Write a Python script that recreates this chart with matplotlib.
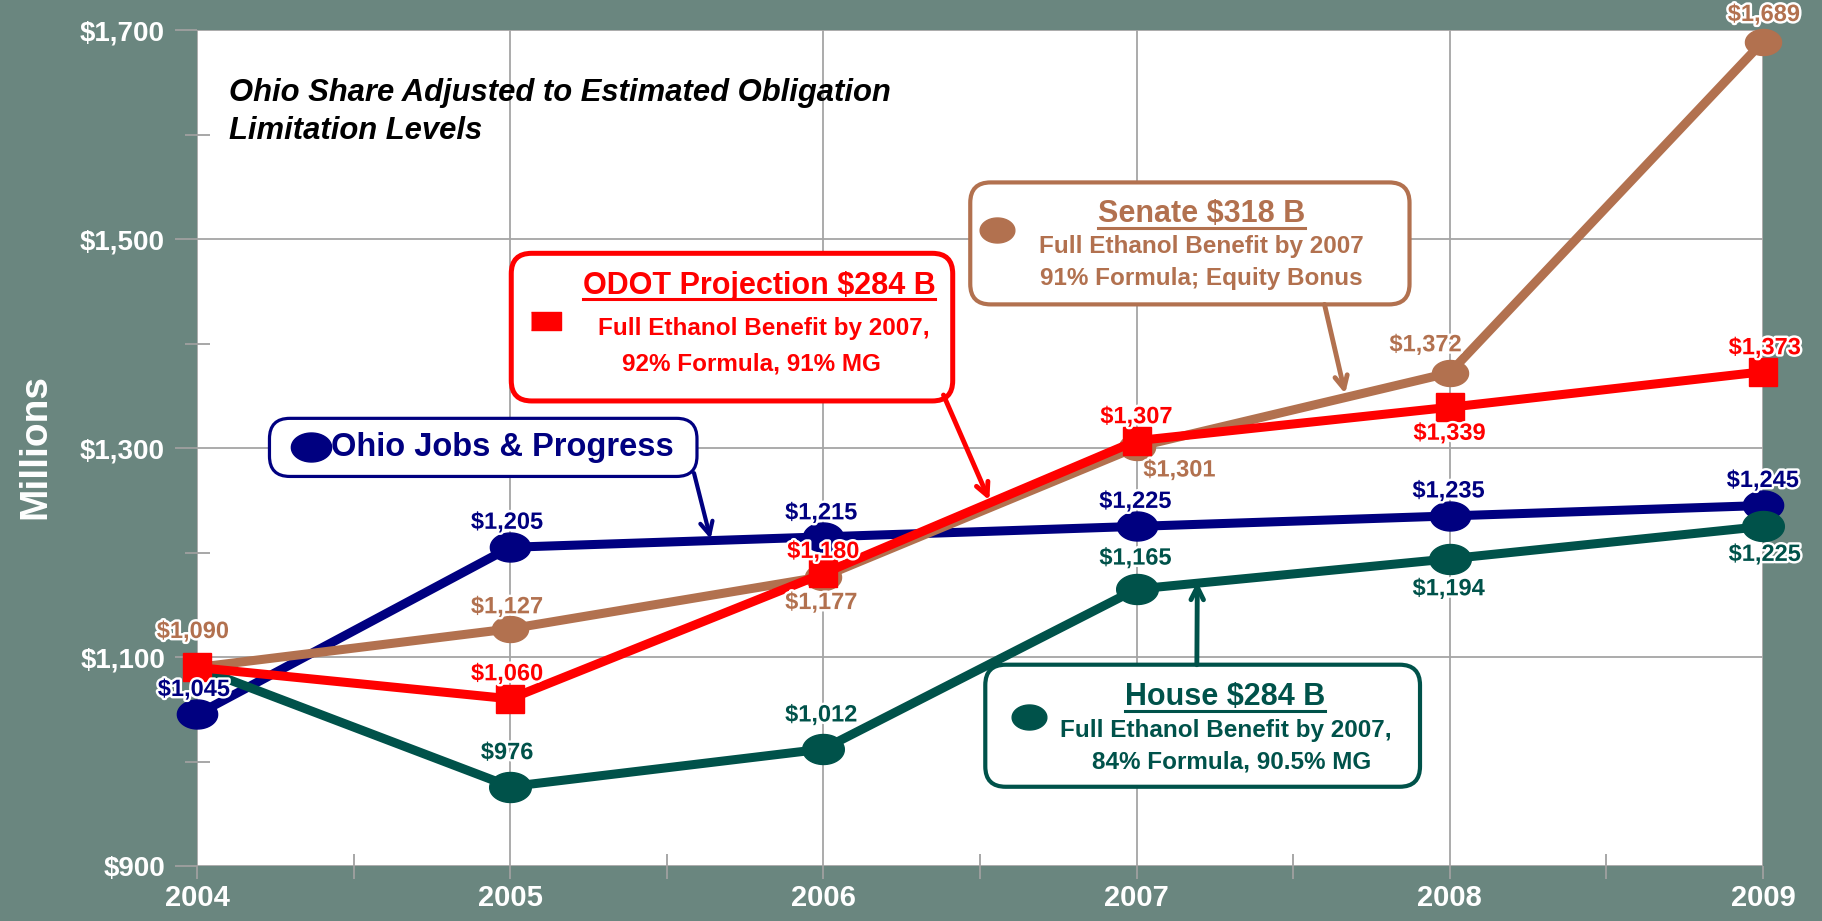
import numpy as np
import matplotlib.pyplot as plt
from matplotlib.path import Path
from matplotlib.patches import FancyBboxPatch
import matplotlib.patheffects as pe

plt.rcParams['font.family'] = ['Liberation Sans', 'DejaVu Sans']
plt.rcParams['font.weight'] = 'bold'

# Datos (millones de dolares)
years = [2004, 2005, 2006, 2007, 2008, 2009]
ohio_jobs = [1045, 1205, 1215, 1225, 1235, 1245]
odot = [1090, 1060, 1180, 1307, 1339, 1373]
senate = [1090, 1127, 1177, 1301, 1372, 1689]
house = [1090, 976, 1012, 1165, 1194, 1225]

NAVY = '#000080'
RED = '#ff0000'
BROWN = '#b2714f'
TEAL = '#00524a'
BG = '#6a867f'

# desplazamiento de etiquetas (pixeles), None = sin etiqueta
navy_off = [(-3, 25), (-3, 25), (-2, 24), (-1, 25), (-1, 25), (0, 25)]
red_off = [None, (-3, 25), (0, 22), (0, 24), (0, -26), (2, 24)]
brown_off = [(-4, 36), (-3, 22), (-2, -26), (43, -23), (-24, 28), (1, 27)]
teal_off = [None, (-3, 34), (-2, 34), (-1, 31), (-1, -30), (2, -28)]

t = np.linspace(0, 2 * np.pi, 60)
ell = Path(np.column_stack([np.cos(t), 0.72 * np.sin(t)]))
rect = [(-1, -0.6), (1, -0.6), (1, 0.6), (-1, 0.6)]

fig = plt.figure(figsize=(18.22, 9.21), dpi=100)
fig.patch.set_facecolor(BG)
ax = fig.add_axes([0.1081, 0.0597, 0.8595, 0.9077])
ax.set_facecolor('white')

ax.plot(years, ohio_jobs, color=NAVY, lw=6.5, marker=ell, ms=29, zorder=3, clip_on=False)
ax.plot(years, house, color=TEAL, lw=6.5, marker=ell, ms=30, markevery=range(1, 6), zorder=4, clip_on=False)
ax.plot(years, senate, color=BROWN, lw=6.5, marker=ell, ms=26, markevery=range(1, 6), zorder=5, clip_on=False)
ax.plot(years, odot, color=RED, lw=6.5, marker='s', ms=20, zorder=5.5, clip_on=False)

halo = [pe.withStroke(linewidth=3.5, foreground='white')]
for serie, offs, col in [(ohio_jobs, navy_off, NAVY), (odot, red_off, RED),
                         (senate, brown_off, BROWN), (house, teal_off, TEAL)]:
    for x, v, off in zip(years, serie, offs):
        if off is None:
            continue
        ax.annotate(f'${v:,}', (x, v), xytext=off, textcoords='offset pixels',
                    ha='center', va='center', color=col, fontsize=17,
                    path_effects=halo, zorder=8, annotation_clip=False)

ax.set_xlim(2004, 2009)
ax.set_ylim(900, 1700)
ax.set_xticks(years)
ax.set_xticks([y + 0.5 for y in years[:-1]], minor=True)
ax.set_yticks([900, 1100, 1300, 1500, 1700])
ax.set_yticks([1000, 1200, 1400, 1600], minor=True)
ax.yaxis.set_major_formatter(plt.FuncFormatter(lambda v, p: f'${v:,.0f}'))
ax.grid(True, which='major', color='#a5a5a5', lw=1.3)
ax.set_axisbelow(True)
for s in ax.spines.values():
    s.set_visible(False)
ax.tick_params(axis='y', which='major', length=16, width=1.3, color='#a0a0a0', direction='out',
               pad=7, labelsize=20, labelcolor='white')
ax.tick_params(axis='y', which='minor', length=18, width=1.3, color='#a0a0a0', direction='inout')
ax.tick_params(axis='x', which='major', length=9, width=1.3, color='#a0a0a0', direction='out',
               pad=4, labelsize=21, labelcolor='white')
ax.tick_params(axis='x', which='minor', length=18, width=1.3, color='#a0a0a0', direction='inout')

fig.text(35 / 1822, 0.5147, 'Millions', rotation=90, color='white', fontsize=28,
         ha='center', va='center')

ax.text(0.0204, 0.902, 'Ohio Share Adjusted to Estimated Obligation\nLimitation Levels',
        style='italic', fontsize=22.3, ha='left', va='center', linespacing=1.35,
        transform=ax.transAxes, zorder=7)

aspect = 1566 / 836


def callout(x0, y0, x1, y1, col, lw):
    p = FancyBboxPatch((x0, y0), x1 - x0, y1 - y0,
                       boxstyle='round,pad=0,rounding_size=0.013', mutation_aspect=aspect,
                       transform=ax.transAxes, fc='white', ec=col, lw=lw, zorder=6, clip_on=False)
    ax.add_patch(p)


def arrow(xy, start, col, lw):
    ax.annotate('', xy=xy, xytext=start, textcoords='axes fraction',
                arrowprops=dict(arrowstyle='->,head_length=0.9,head_width=0.45', color=col,
                                lw=lw, shrinkA=0, shrinkB=0), zorder=6)


titles = []

# Ohio Jobs & Progress
callout(0.0463, 0.4660, 0.3193, 0.5355, NAVY, 2.3)
ax.plot([0.0730], [0.5007], marker=ell, ms=29, color=NAVY, transform=ax.transAxes,
        clip_on=False, zorder=7)
ax.text(0.0857, 0.5007, 'Ohio Jobs & Progress', color=NAVY, fontsize=23.5, ha='left',
        va='center', transform=ax.transAxes, zorder=7)
arrow((2005.64, 1213), (0.3174, 0.470), NAVY, 3)

# ODOT
callout(0.2007, 0.5563, 0.4826, 0.7329, RED, 3.6)
ax.plot([0.2229], [0.6521], marker=rect, ms=21, color=RED, transform=ax.transAxes,
        clip_on=False, zorder=7)
titles.append((ax.text(0.3589, 0.6940, 'ODOT Projection $284 B', color=RED, fontsize=22,
                       ha='center', va='center', transform=ax.transAxes, zorder=7), 0.6781, RED))
ax.text(0.3621, 0.6433, 'Full Ethanol Benefit by 2007,', color=RED, fontsize=17.5,
        ha='center', va='center', transform=ax.transAxes, zorder=7)
ax.text(0.3543, 0.6007, '92% Formula, 91% MG', color=RED, fontsize=17.5,
        ha='center', va='center', transform=ax.transAxes, zorder=7)
arrow((2006.53, 1250), (0.4767, 0.5634), RED, 3.5)

# Senate
callout(0.4938, 0.6718, 0.7743, 0.8177, BROWN, 3)
ax.plot([0.5109], [0.7608], marker=ell, ms=25, color=BROWN, transform=ax.transAxes,
        clip_on=False, zorder=7)
titles.append((ax.text(0.6414, 0.7801, 'Senate $318 B', color=BROWN, fontsize=22,
                       ha='center', va='center', transform=ax.transAxes, zorder=7), 0.7635, BROWN))
ax.text(0.6414, 0.7413, 'Full Ethanol Benefit by 2007', color=BROWN, fontsize=17.5,
        ha='center', va='center', transform=ax.transAxes, zorder=7)
ax.text(0.6414, 0.7023, '91% Formula; Equity Bonus', color=BROWN, fontsize=17.5,
        ha='center', va='center', transform=ax.transAxes, zorder=7)
arrow((2007.666, 1352), (0.720, 0.6718), BROWN, 3.5)

# House
callout(0.5034, 0.0948, 0.7810, 0.2408, TEAL, 3)
ax.plot([0.5316], [0.1782], marker=ell, ms=25, color=TEAL, transform=ax.transAxes,
        clip_on=False, zorder=7)
titles.append((ax.text(0.6563, 0.2019, 'House $284 B', color=TEAL, fontsize=22,
                       ha='center', va='center', transform=ax.transAxes, zorder=7), 0.1854, TEAL))
ax.text(0.6571, 0.1616, 'Full Ethanol Benefit by 2007,', color=TEAL, fontsize=17.5,
        ha='center', va='center', transform=ax.transAxes, zorder=7)
ax.text(0.6607, 0.1241, '84% Formula, 90.5% MG', color=TEAL, fontsize=17.5,
        ha='center', va='center', transform=ax.transAxes, zorder=7)
arrow((2007.194, 1172), (0.6385, 0.2408), TEAL, 3.5)

# subrayado de titulos
fig.canvas.draw()
inv = ax.transAxes.inverted()
for txt, yline, col in titles:
    bb = txt.get_window_extent()
    xa = inv.transform([[bb.x0, 0], [bb.x1, 0]])[:, 0]
    ax.plot(xa, [yline, yline], color=col, lw=2.2, transform=ax.transAxes,
            clip_on=False, zorder=7)

fig.savefig('out.png', dpi=100, facecolor=fig.get_facecolor())
